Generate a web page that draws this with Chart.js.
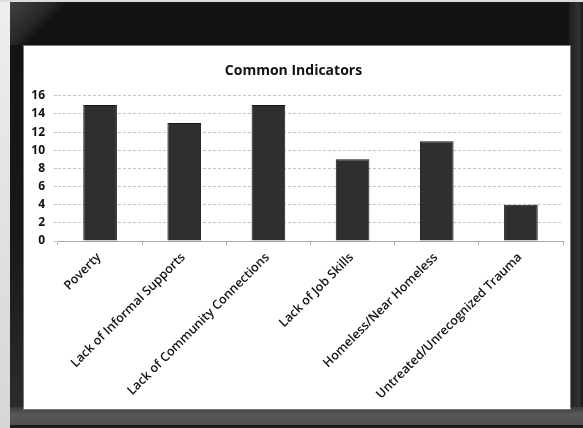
<!DOCTYPE html>
<html>
<head>
<meta charset="utf-8">
<script src="https://cdn.jsdelivr.net/npm/chart.js@4/dist/chart.umd.min.js"></script>
<style>
  html, body { margin: 0; padding: 0; }
  body { width: 583px; height: 428px; position: relative; overflow: hidden; background: #131313; }
  /* monitor-style frame around the white chart panel */
  #edgeLeft { position: absolute; left: 0; top: 0; width: 10px; height: 428px; background: linear-gradient(#eeeeee, #d6d6d6); }
  #edgeTop { position: absolute; left: 0; top: 0; width: 583px; height: 2px; background: #dcdcdc; }
  #sideLeft { position: absolute; left: 10px; top: 0; width: 14px; height: 428px; background: linear-gradient(#121212 0, #181818 55%, #2e2e2e 100%); }
  #glare { position: absolute; left: 10px; top: 2px; width: 55px; height: 43px; background: linear-gradient(135deg, rgba(70,70,70,0.9) 0, rgba(45,45,45,0.8) 30px, rgba(19,19,19,0) 42px); }
  #sideRight { position: absolute; left: 569px; top: 0; width: 14px; height: 428px; background: linear-gradient(90deg, #1e1e1e, #333 70%, #1a1a1a); }
  #bottomBand { position: absolute; left: 10px; top: 407px; width: 573px; height: 18px; background: linear-gradient(#3a3a3a, #585858 40%, #505050); }
  #bottomEdge { position: absolute; left: 10px; top: 425px; width: 573px; height: 3px; background: #1c1c1c; }
  #panel { position: absolute; left: 23px; top: 45px; width: 546px; height: 363px; background: #fff; border: 1px solid #7a7a7a; }
  canvas { display: block; }
</style>
</head>
<body>
<div id="edgeLeft"></div>
<div id="sideLeft"></div>
<div id="sideRight"></div>
<div id="glare"></div>
<div id="edgeTop"></div>
<div id="bottomBand"></div>
<div id="bottomEdge"></div>
<div id="panel"><canvas id="chart" width="546" height="363"></canvas></div>

<script>
// Chart data
const chartTitle = 'Common Indicators';
const categories = [
  'Poverty',
  'Lack of Informal Supports',
  'Lack of Community Connections',
  'Lack of Job Skills',
  'Homeless/Near Homeless',
  'Untreated/Unrecognized Trauma'
];
const counts = [15, 13, 15, 9, 11, 4];
const yMax = 16;
const yStep = 2;

const fontFamily = '"Open Sans", Lato, "Liberation Sans", sans-serif';
const gridGray = '#c4c4c4';

new Chart(document.getElementById('chart'), {
  type: 'bar',
  data: {
    labels: categories,
    datasets: [{
      data: counts,
      backgroundColor: '#2f2f2f',
      borderColor: '#161616',
      borderWidth: 1,
      barPercentage: 0.4,
      categoryPercentage: 1
    }]
  },
  options: {
    responsive: false,
    animation: false,
    devicePixelRatio: 1,
    layout: { padding: { left: 0, right: 7, top: 0, bottom: 0 } },
    plugins: {
      legend: { display: false },
      tooltip: { enabled: false },
      title: {
        display: true,
        text: chartTitle,
        color: '#111',
        font: { family: fontFamily, size: 14, weight: 'bold' },
        padding: { top: 17, bottom: 16 }
      }
    },
    scales: {
      x: {
        grid: {
          offset: true,
          drawOnChartArea: false,
          drawTicks: true,
          tickLength: 4,
          tickColor: '#b0b0b0'
        },
        border: { display: true, color: '#a8a8a8', width: 1 },
        ticks: {
          color: '#111',
          font: { family: fontFamily, size: 12.5, weight: 600 },
          minRotation: 45,
          maxRotation: 45,
          autoSkip: false,
          labelOffset: -1,
          padding: 5
        },
        afterFit: scale => { scale.height = 168; }
      },
      y: {
        min: 0,
        max: yMax,
        grid: {
          color: gridGray,
          lineWidth: 1,
          tickLength: 4,
          tickColor: gridGray,
          tickBorderDash: [3, 2]
        },
        border: { display: false, dash: [3, 2] },
        ticks: {
          stepSize: yStep,
          autoSkip: false,
          color: '#111',
          font: { family: fontFamily, size: 12, weight: 'bold' },
          padding: 9
        },
        afterFit: scale => { scale.width = 34; }
      }
    }
  }
});
</script>
</body>
</html>
